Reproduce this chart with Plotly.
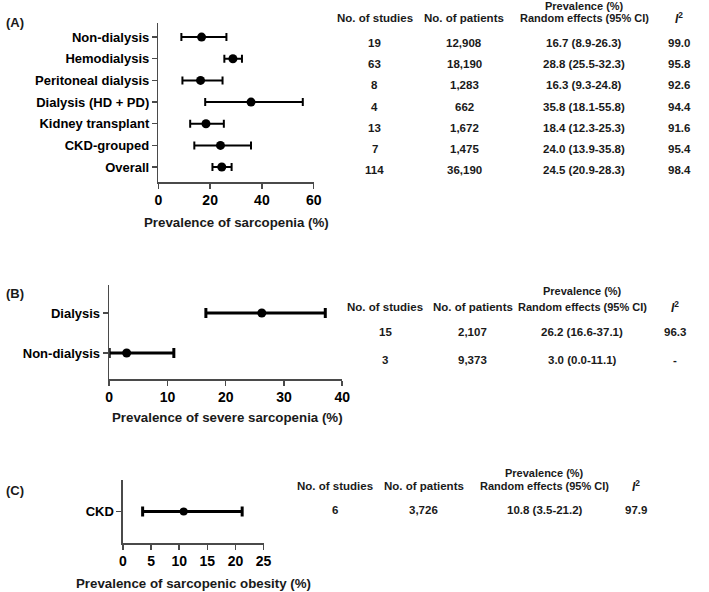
import plotly.graph_objects as go

W, H = 709, 592

# ---------------- data ----------------
cat_a = ["Non-dialysis", "Hemodialysis", "Peritoneal dialysis", "Dialysis (HD + PD)",
         "Kidney transplant", "CKD-grouped", "Overall"]
studies_a = [19, 63, 8, 4, 13, 7, 114]
patients_a = [12908, 18190, 1283, 662, 1672, 1475, 36190]
prev_a = [16.7, 28.8, 16.3, 35.8, 18.4, 24.0, 24.5]
lo_a = [8.9, 25.5, 9.3, 18.1, 12.3, 13.9, 20.9]
hi_a = [26.3, 32.3, 24.8, 55.8, 25.3, 35.8, 28.3]
i2_a = [99.0, 95.8, 92.6, 94.4, 91.6, 95.4, 98.4]

cat_b = ["Dialysis", "Non-dialysis"]
studies_b = [15, 3]
patients_b = [2107, 9373]
prev_b = [26.2, 3.0]
lo_b = [16.6, 0.0]
hi_b = [37.1, 11.1]
i2_b = [96.3, None]

cat_c = ["CKD"]
studies_c = [6]
patients_c = [3726]
prev_c = [10.8]
lo_c = [3.5]
hi_c = [21.2]
i2_c = [97.9]

ticks_a = [0, 20, 40, 60]
ticks_b = [0, 10, 20, 30, 40]
ticks_c = [0, 5, 10, 15, 20, 25]

FONT = "Liberation Sans"
LINE = "#4a4a4a"


def fx(px):
    return px / W


def fy(py):
    return 1 - py / H


fig = go.Figure()


def add_panel(idx, cats, prev, lo, hi, msize, thick, capw):
    ys = list(range(len(cats)))
    fig.add_trace(go.Scatter(
        x=prev, y=ys, mode="markers",
        marker=dict(color="black", size=msize),
        error_x=dict(type="data", symmetric=False,
                     array=[h - p for h, p in zip(hi, prev)],
                     arrayminus=[p - l for p, l in zip(prev, lo)],
                     color="black", thickness=thick, width=capw),
        xaxis="x" if idx == 1 else f"x{idx}",
        yaxis="y" if idx == 1 else f"y{idx}",
        showlegend=False, hoverinfo="skip", cliponaxis=False,
    ))


add_panel(1, cat_a, prev_a, lo_a, hi_a, 9, 2, 4)
add_panel(2, cat_b, prev_b, lo_b, hi_b, 9, 3, 5)
add_panel(3, cat_c, prev_c, lo_c, hi_c, 8, 3, 5)

ytickfont = dict(family=FONT, size=13, color="black", weight="bold")
xtickfont = dict(family=FONT, size=14, color="black", weight="bold")


def xax(dom, rng, tv, anchor):
    return dict(domain=[fx(dom[0]), fx(dom[1])], range=rng, tickvals=tv,
                showline=True, linecolor=LINE, linewidth=1.5, ticks="outside",
                ticklen=5, tickwidth=1.5, tickcolor=LINE, showgrid=False,
                zeroline=False, tickfont=xtickfont, anchor=anchor, fixedrange=True)


def yax(dom, rng, cats, anchor):
    return dict(domain=[fy(dom[1]), fy(dom[0])], range=rng,
                tickvals=list(range(len(cats))), ticktext=cats,
                showline=True, linecolor=LINE, linewidth=1.5, ticks="outside",
                ticklen=5, tickwidth=1.5, tickcolor=LINE, showgrid=False,
                zeroline=False, tickfont=ytickfont, anchor=anchor, fixedrange=True)


fig.update_layout(
    width=W, height=H, margin=dict(l=0, r=0, t=0, b=0),
    paper_bgcolor="white", plot_bgcolor="white",
    xaxis=xax((157, 315), [0, 60], ticks_a, "y"),
    yaxis=yax((23, 182), [6.69, -0.65], cat_a, "x"),
    xaxis2=xax((107, 344), [0, 40], ticks_b, "y2"),
    yaxis2=yax((285, 379), [1.65, -0.7], cat_b, "x2"),
    xaxis3=xax((121, 264), [0, 25], ticks_c, "y3"),
    yaxis3=yax((480, 543), [1, -1], cat_c, "x3"),
)

annots = []


def txt(x, y, s, size=11.5, xanchor="center"):
    annots.append(dict(x=fx(x), y=fy(y), xref="paper", yref="paper", text=s,
                       showarrow=False, xanchor=xanchor, yanchor="middle",
                       font=dict(family=FONT, size=size, color="#1a1a1a", weight="bold")))


# panel labels
txt(0, 23, "(A)", 13, "left")
txt(0, 293, "(B)", 13, "left")
txt(0, 490, "(C)", 13, "left")

# axis titles
txt(236, 222, "Prevalence of sarcopenia (%)", 13.3)
txt(227, 418, "Prevalence of severe sarcopenia (%)", 13.3)
txt(193, 583, "Prevalence of sarcopenic obesity (%)", 13.3)


def table(cols, hy, py, rows_y, studies, patients, prev, lo, hi, i2):
    c1, c2, c3, c4 = cols
    txt(c1, hy, "No. of studies")
    txt(c2, hy, "No. of patients")
    txt(c3, py, "Prevalence (%)", 11)
    txt(c3, hy, "Random effects (95% CI)", 11)
    txt(c4, hy, "<i>I</i><sup>2</sup>", 12)
    for y, s, n, p, l, h, v in zip(rows_y, studies, patients, prev, lo, hi, i2):
        txt(c1, y, f"{s}")
        txt(c2, y, f"{n:,}")
        txt(c3, y, f"{p:.1f} ({l:.1f}-{h:.1f})")
        txt(c4, y, "-" if v is None else f"{v:.1f}")


table((377, 468, 590, 687), 18, 6, [43, 64, 85, 107, 128, 149, 170],
      studies_a, patients_a, prev_a, lo_a, hi_a, i2_a)
table((388, 477, 588, 683), 307, 291, [332, 360],
      studies_b, patients_b, prev_b, lo_b, hi_b, i2_b)
table((337, 427, 550, 643), 486, 473, [510],
      studies_c, patients_c, prev_c, lo_c, hi_c, i2_c)

fig.update_layout(annotations=annots)
fig.write_html("out.html", config={"displayModeBar": False, "staticPlot": True},
               post_script="document.body.style.margin='0';document.body.style.overflow='hidden';")
